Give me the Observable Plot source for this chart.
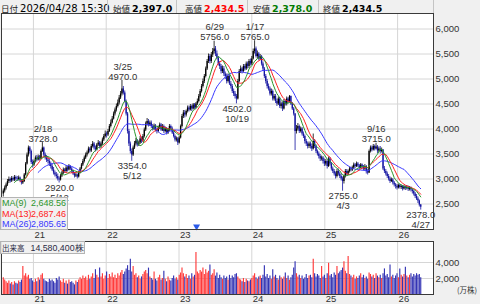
<!DOCTYPE html>
<html><head><meta charset="utf-8">
<script src="https://cdn.jsdelivr.net/npm/d3@7"></script>
<script src="https://cdn.jsdelivr.net/npm/@observablehq/plot@0.6"></script>
<style>
html,body{margin:0;padding:0;background:#fff;}
#chart{position:relative;width:480px;height:304px;background:#f0f0f0;overflow:hidden;font-family:"Liberation Sans",Arial,sans-serif;}
#hdr{position:absolute;left:0;top:0;width:480px;height:13px;background:#f0f0f0;white-space:nowrap;}
.fld{position:absolute;top:1px;line-height:12px;white-space:nowrap;}
.lab{font-family:"Noto Sans CJK JP",sans-serif;font-size:8.5px;color:#222;}
.val{font-family:"DejaVu Sans",sans-serif;font-size:9.5px;font-weight:bold;margin-left:2px;}
.sep{position:absolute;top:0;width:1px;height:13px;background:#c4c4c4;}
.pane{position:absolute;left:0;}
#leg{position:absolute;left:0;top:197px;width:66px;height:31px;background:rgba(240,240,240,0.92);border:1px solid #b4b4b4;font-size:9px;}
.lrow{position:absolute;left:1px;width:64px;height:11px;line-height:11px;}
.lrow .v{position:absolute;right:0;}
#vlab{position:absolute;left:0;top:241px;width:83px;height:11px;background:rgba(240,240,240,0.92);border:1px solid #b4b4b4;font-size:8.8px;line-height:11px;color:#2a2a44;white-space:nowrap;}
#unit{position:absolute;left:457px;top:284px;font-family:"Noto Sans CJK JP",sans-serif;font-size:7.5px;color:#333;}
</style>
</head><body>
<div id="chart">
  <div id="hdr"></div>
  <div class="pane" id="pricePane" style="top:13px"></div>
  <div class="pane" id="volPane" style="top:240px"></div>
  <div id="leg"></div>
  <div id="vlab"></div>
  <div id="unit">(万株)</div>
</div>
<script>
// ---- header quote ----
const hdrLabels = ["日付", "始値", "高値", "安値", "終値"];
const hdrValues = ["2026/04/28 15:30", "2,397.0", "2,434.5", "2,378.0", "2,434.5"];
const hdrColors = ["#000", "#000", "#ff0000", "#007a00", "#000"];
// ---- moving-average legend ----
const maNames = ["MA(9)", "MA(13)", "MA(26)"];
const maValues = ["2,648.56", "2,687.46", "2,805.65"];
const maPeriods = [9, 13, 26];
const maColors = ["#2c942c", "#ff2020", "#3838ff"];
// ---- volume caption ----
const volCaptionLabel = "出来高";
const volCaptionValue = "14,580,400株";

// ---- weekly candles (first week 2020-08-03, last week 2026-04-27) ----
const opens = [
2700,2760,2820,2880,2950,2990,2960,3010,2980,3030,
3000,2990,3020,2960,2920,2950,3080,3300,3480,3620,
3550,3330,3280,3350,3420,3380,3440,3400,3550,3620,
3480,3420,3380,3350,3300,3250,3180,3120,3080,3050,
3000,2980,3060,3120,3180,3150,3220,3180,3250,3200,
3150,3100,3060,3080,3040,3120,3200,3280,3350,3420,
3480,3520,3600,3560,3650,3700,3620,3580,3680,3720,
3650,3700,3780,3850,3900,3880,3950,4050,4120,4200,
4300,4380,4450,4520,4620,4700,4800,4720,4550,4300,
3950,3700,3550,3480,3620,3700,3760,3680,3720,3800,
3760,3850,3980,4100,4150,4080,4120,4050,4000,4060,
3980,3950,4020,4080,3980,4050,3950,4000,3920,3980,
4050,4000,3920,3850,3780,3800,3720,3820,4050,4250,
4320,4280,4350,4420,4380,4450,4400,4480,4420,4500,
4550,4650,4750,4850,4950,5050,5200,5350,5450,5350,
5480,5550,5600,5500,5420,5300,5250,5150,5200,5100,
5050,4950,5050,4900,4850,4750,4700,4650,4600,4950,
5150,5200,5150,5250,5200,5300,5250,5350,5300,5400,
5550,5600,5450,5500,5400,5450,5300,5200,5050,4950,
4850,4800,4700,4750,4600,4650,4550,4500,4600,4450,
4500,4400,4550,4500,4600,4550,4650,4500,4400,4300,
3950,4000,4050,3950,4000,3900,3850,3750,3700,3650,
3700,3650,3600,3750,3650,3550,3500,3450,3400,3420,
3350,3300,3350,3250,3400,3300,3200,3150,3100,3050,
3150,3100,3050,3000,2950,3050,3150,3100,3150,3200,
3180,3220,3280,3250,3300,3260,3220,3280,3240,3200,
3250,3150,3120,3550,3620,3580,3650,3600,3640,3560,
3600,3550,3580,3200,3150,3100,3050,3000,2950,2980,
2920,2880,2850,2820,2870,2830,2850,2800,2840,2810,
2830,2790,2820,2780,2750,2700,2650,2600,2560,2480];
const highs = [
2800,2860,2920,2990,3040,3020,3050,3040,3070,3060,
3050,3060,3040,2990,2990,3110,3330,3520,3660,3650,
3580,3380,3380,3460,3470,3480,3470,3580,3728,3640,
3520,3470,3430,3400,3340,3290,3230,3160,3130,3100,
3040,3090,3160,3220,3210,3260,3250,3290,3270,3230,
3180,3130,3120,3100,3150,3230,3310,3390,3460,3520,
3560,3640,3630,3690,3750,3730,3660,3710,3770,3750,
3740,3820,3890,3960,3940,3990,4090,4180,4250,4340,
4420,4500,4580,4670,4750,4970,4850,4760,4580,4330,
3990,3740,3600,3660,3750,3810,3790,3760,3850,3840,
3890,4020,4140,4210,4190,4160,4160,4090,4100,4090,
4020,4060,4120,4110,4090,4080,4040,4030,4010,4090,
4080,4040,3950,3880,3840,3830,3850,4080,4290,4370,
4370,4380,4460,4460,4490,4480,4510,4510,4530,4600,
4690,4790,4890,5000,5090,5240,5390,5500,5490,5530,
5610,5756,5650,5560,5450,5350,5290,5260,5250,5140,
5100,5100,5080,4950,4890,4800,4750,4690,4990,5190,
5260,5230,5290,5290,5340,5340,5390,5400,5450,5600,
5765,5640,5560,5530,5490,5470,5340,5230,5090,4990,
4900,4840,4800,4780,4690,4690,4600,4640,4630,4540,
4540,4590,4580,4640,4630,4670,4660,4530,4430,4310,
4070,4110,4080,4040,4030,3940,3880,3790,3740,3740,
3740,3700,3900,3790,3680,3580,3540,3490,3460,3450,
3400,3390,3380,3440,3430,3330,3240,3190,3140,3190,
3200,3140,3090,3040,3080,3190,3190,3180,3240,3240,
3260,3320,3310,3340,3330,3290,3310,3300,3270,3290,
3270,3190,3580,3660,3660,3690,3680,3715,3670,3640,
3650,3620,3590,3250,3190,3140,3090,3040,3020,3010,
2950,2910,2890,2900,2890,2880,2870,2870,2860,2870,
2860,2850,2840,2800,2770,2730,2690,2640,2580,2490];
const lows = [
2640,2720,2780,2850,2910,2920,2930,2950,2950,2960,
2950,2960,2940,2880,2890,2930,3060,3280,3440,3500,
3290,3220,3250,3320,3340,3360,3360,3380,3530,3440,
3380,3330,3300,3250,3200,3150,3080,3040,3000,2960,
2920,2960,3030,3090,3110,3120,3140,3160,3170,3110,
3070,3020,3030,3000,3020,3100,3180,3250,3320,3390,
3440,3500,3520,3530,3620,3580,3540,3560,3650,3600,
3610,3670,3750,3820,3820,3850,3930,4020,4100,4180,
4260,4340,4420,4480,4590,4660,4680,4520,4260,3900,
3650,3500,3354,3450,3590,3660,3640,3650,3690,3710,
3730,3820,3950,4060,4040,4050,4010,3960,3970,3940,
3900,3920,3990,3950,3950,3910,3920,3880,3890,3950,
3960,3890,3820,3740,3740,3670,3700,3800,4020,4210,
4220,4240,4320,4340,4360,4350,4380,4390,4400,4470,
4520,4620,4720,4820,4910,5020,5170,5310,5300,5310,
5430,5500,5450,5380,5260,5190,5100,5110,5050,4990,
4900,4920,4870,4800,4710,4650,4600,4502,4580,4920,
5110,5100,5120,5160,5170,5200,5210,5260,5270,5380,
5500,5420,5400,5360,5370,5260,5150,5010,4900,4800,
4760,4660,4660,4560,4560,4510,4450,4470,4410,4400,
4350,4380,4460,4460,4510,4520,4470,4370,4260,3570,
3900,3960,3910,3920,3860,3810,3700,3650,3600,3610,
3600,3550,3580,3610,3510,3460,3400,3350,3360,3300,
3250,3260,3200,3230,3260,3160,3110,3060,3000,3020,
3060,3010,2960,2755,2900,3020,3060,3070,3120,3140,
3150,3190,3210,3230,3230,3180,3200,3200,3160,3170,
3100,3080,3110,3520,3540,3560,3560,3580,3510,3530,
3500,3520,3170,3110,3060,3010,2960,2910,2930,2880,
2840,2800,2780,2800,2800,2790,2760,2780,2770,2780,
2750,2760,2740,2700,2660,2610,2570,2510,2440,2378];
const closes = [
2760,2820,2880,2950,2990,2960,3010,2980,3030,3000,
2990,3020,2960,2920,2950,3080,3300,3480,3620,3550,
3330,3280,3350,3420,3380,3440,3400,3550,3620,3480,
3420,3380,3350,3300,3250,3180,3120,3080,3050,3000,
2980,3060,3120,3180,3150,3220,3180,3250,3200,3150,
3100,3060,3080,3040,3120,3200,3280,3350,3420,3480,
3520,3600,3560,3650,3700,3620,3580,3680,3720,3650,
3700,3780,3850,3900,3880,3950,4050,4120,4200,4300,
4380,4450,4520,4620,4700,4800,4720,4550,4300,3950,
3700,3550,3480,3620,3700,3760,3680,3720,3800,3760,
3850,3980,4100,4150,4080,4120,4050,4000,4060,3980,
3950,4020,4080,3980,4050,3950,4000,3920,3980,4050,
4000,3920,3850,3780,3800,3720,3820,4050,4250,4320,
4280,4350,4420,4380,4450,4400,4480,4420,4500,4550,
4650,4750,4850,4950,5050,5200,5350,5450,5350,5480,
5550,5600,5500,5420,5300,5250,5150,5200,5100,5050,
4950,5050,4900,4850,4750,4700,4650,4600,4950,5150,
5200,5150,5250,5200,5300,5250,5350,5300,5400,5550,
5600,5450,5500,5400,5450,5300,5200,5050,4950,4850,
4800,4700,4750,4600,4650,4550,4500,4600,4450,4500,
4400,4550,4500,4600,4550,4650,4500,4400,4300,3950,
4000,4050,3950,4000,3900,3850,3750,3700,3650,3700,
3650,3600,3750,3650,3550,3500,3450,3400,3420,3350,
3300,3350,3250,3400,3300,3200,3150,3100,3050,3150,
3100,3050,3000,2950,3050,3150,3100,3150,3200,3180,
3220,3280,3250,3300,3260,3220,3280,3240,3200,3250,
3150,3120,3550,3620,3580,3650,3600,3640,3560,3600,
3550,3580,3200,3150,3100,3050,3000,2950,2980,2920,
2880,2850,2820,2870,2830,2850,2800,2840,2810,2830,
2790,2820,2780,2750,2700,2650,2600,2560,2480,2434.5];
// weekly volume, 万株
const volumes = [
2100,1800,1600,1400,1700,1300,1500,1200,1600,1400,
1300,1700,1500,1800,3500,2300,2600,2200,2400,1900,
2000,1700,1500,1900,1600,2100,1800,2400,2600,1900,
1700,1600,1500,1900,1700,1800,1600,1400,2000,1800,
2200,1700,1500,1900,1400,1700,1300,1800,1500,1600,
1400,1200,1700,1500,1800,2100,1900,2300,2000,2200,
1800,2400,1900,2200,2600,2000,3100,2400,2100,3300,
2200,2600,1900,2300,2800,2000,2500,2200,2700,2100,
2400,2000,2600,2300,2700,3000,2500,2800,3200,3600,
3000,4400,2800,3500,2400,2600,2100,2300,1900,2200,
2500,2800,3000,2600,3300,2200,2000,1800,2800,1900,
1700,2100,2400,1800,2000,2900,1900,1600,2200,1800,
1700,2000,2300,1900,2100,1800,2400,2700,3300,2600,
2200,2500,2000,2300,1900,2600,2200,2400,5250,2800,
2600,3000,2800,3300,2500,3100,2700,2900,3700,2400,
2600,3100,2300,2700,2000,2400,2100,1900,2300,2000,
2200,1800,2400,2000,2300,2100,2500,2600,2200,1900,
1800,1600,2000,1500,1900,1700,1600,1800,2000,2300,
2600,2100,1900,2200,2300,2000,2400,3600,2200,2500,
2000,2300,1900,3100,2200,2400,2000,1800,2300,2100,
1900,2200,2700,2000,2300,1800,2100,2400,3300,4100,
2600,2200,2400,2000,2300,1900,2100,2500,2000,2300,
2400,2100,4400,2600,2200,2500,2300,2000,3500,2200,
2400,2000,2600,3900,2300,2500,2100,2700,2400,3500,
2600,2800,3000,3300,4100,2900,2600,4750,2500,2300,
2100,2400,1900,2200,2000,2300,2600,2100,2400,2000,
2200,1900,2700,2500,2200,2400,2000,2600,2300,2100,
2400,2000,2600,3200,2300,2500,2100,3700,2200,2400,
2000,2300,2600,2100,3200,2400,2200,2500,3400,2300,
2100,2400,2600,2200,2500,2300,2600,2400,2500,2100];

// ---- high/low annotations ----
const annDates = ["2021-02-18","2021-05-12","2022-03-25","2022-05-12","2023-06-29","2023-10-19","2024-01-17","2025-04-03","2025-09-16","2026-04-27"];
const annLabels = ["2/18","5/12","3/25","5/12","6/29","10/19","1/17","4/3","9/16","4/27"];
const annValues = [3728.0, 2920.0, 4970.0, 3354.0, 5756.0, 4502.0, 5765.0, 2755.0, 3715.0, 2378.0];
const annKinds = ["high","low","high","low","high","low","high","low","high","low"];
// ---- event marker ----
const eventDates = ["2023-03-30"];
// ---- axis ticks ----
const priceTicks = [2500, 3000, 3500, 4000, 4500, 5000, 5500, 6000];
const volTicks = [2000, 4000];
const yearTicks = [2021, 2022, 2023, 2024, 2025, 2026];

const parse = d3.timeParse("%Y-%m-%d");
const dates = d3.timeMonday.range(new Date(2020, 7, 3), new Date(2026, 3, 28));
const candles = dates.map((date, i) => ({date, open: opens[i], high: highs[i], low: lows[i], close: closes[i], volume: volumes[i]}));
const years = yearTicks.map(y => new Date(y, 0, 1));
const anns = annDates.map((d, i) => ({date: parse(d), label: annLabels[i], value: annValues[i], kind: annKinds[i]}));
const events = eventDates.map(parse);

const xDomain = [new Date(2020, 6, 25), new Date(2026, 5, 30)];
const upCandle = "#000000", downCandle = "#1212a0";
const upVol = "#ff3a3a", downVol = "#3434b4";
const gridC = "#d6d6d6", frameC = "#3a3a3a", txt = "#333";
const baseStyle = {fontFamily: "'Liberation Sans', Arial, sans-serif", fontSize: "9.5px", background: "transparent", overflow: "visible", color: txt};

const price = Plot.plot({
  width: 480, height: 227,
  marginLeft: 1, marginRight: 47, marginTop: 0, marginBottom: 11,
  x: {type: "time", domain: xDomain, label: null},
  y: {domain: [1990, 6310], label: null},
  color: {type: "identity"},
  style: baseStyle,
  marks: [
    Plot.frame({fill: "white"}),
    Plot.ruleY(priceTicks, {y: d => d, stroke: gridC}),
    Plot.ruleX(years, {x: d => d, stroke: gridC}),
    Plot.ruleX(candles, {x: "date", y1: "low", y2: "high", stroke: d => d.close >= d.open ? upCandle : downCandle, strokeWidth: 0.8}),
    Plot.ruleX(candles, {x: "date", y1: "open", y2: "close", stroke: d => d.close >= d.open ? upCandle : downCandle, strokeWidth: 1.3}),
    ...[2, 1, 0].map(j => Plot.lineY(candles, Plot.windowY({k: maPeriods[j], anchor: "end", strict: true}, {x: "date", y: "close", stroke: maColors[j], strokeWidth: 1}))),
    Plot.text(anns.filter(d => d.kind === "high"), {x: "date", y: "value", text: d => d.label + "\n" + d.value.toFixed(1), lineAnchor: "bottom", dy: -1, lineHeight: 1.05, fill: txt, fontSize: 9.5}),
    Plot.text(anns.filter(d => d.kind === "low"), {x: "date", y: "value", text: d => d.value.toFixed(1) + "\n" + d.label, lineAnchor: "top", dy: 1, lineHeight: 1.05, fill: txt, fontSize: 9.5}),
    Plot.dot(events, {x: d => d, frameAnchor: "bottom", dy: -3, symbol: "triangle", rotate: 180, r: 2.6, fill: "#2a5ae8", stroke: "none"}),
    Plot.axisY(priceTicks, {anchor: "right", tickSize: 0, tickPadding: 2, fill: txt, label: null}),
    Plot.axisX(years, {anchor: "bottom", tickSize: 0, tickPadding: 2, tickFormat: d3.timeFormat("%y"), textAnchor: "start", dx: 1, fill: txt, label: null}),
    Plot.frame({stroke: frameC})
  ]
});
document.getElementById("pricePane").appendChild(price);

const vol = Plot.plot({
  width: 480, height: 64,
  marginLeft: 1, marginRight: 47, marginTop: 1, marginBottom: 10,
  x: {type: "time", domain: xDomain, label: null},
  y: {domain: [0, 6625], label: null},
  color: {type: "identity"},
  style: baseStyle,
  marks: [
    Plot.frame({fill: "white"}),
    Plot.ruleY(volTicks, {y: d => d, stroke: gridC}),
    Plot.ruleX(years, {x: d => d, stroke: gridC}),
    Plot.ruleX(candles, {x: "date", y1: 0, y2: "volume", stroke: d => d.close >= d.open ? upVol : downVol, strokeWidth: 1.15}),
    Plot.axisY(volTicks, {anchor: "right", tickSize: 0, tickPadding: 2, fill: txt, label: null}),
    Plot.axisX(years, {anchor: "bottom", tickSize: 0, tickPadding: 1, tickFormat: d3.timeFormat("%y"), textAnchor: "start", dx: 1, fill: txt, label: null}),
    Plot.frame({stroke: frameC})
  ]
});
document.getElementById("volPane").appendChild(vol);

// header
const hdrX = [1, 113, 185, 253, 323];
const sepX = [107, 176, 247, 318, 433];
const hdr = document.getElementById("hdr");
hdrLabels.forEach((l, i) => {
  const f = document.createElement("div");
  f.className = "fld";
  f.style.left = hdrX[i] + "px";
  const a = document.createElement("span"); a.className = "lab"; a.textContent = l;
  const b = document.createElement("span"); b.className = "val"; b.textContent = hdrValues[i]; b.style.color = hdrColors[i];
  if (i === 0) { b.style.fontWeight = "normal"; b.style.fontSize = "10px"; }
  f.appendChild(a); f.appendChild(b); hdr.appendChild(f);
});
sepX.forEach(x => { const s = document.createElement("div"); s.className = "sep"; s.style.left = x + "px"; hdr.appendChild(s); });

// MA legend
const leg = document.getElementById("leg");
maNames.forEach((n, i) => {
  const r = document.createElement("div");
  r.className = "lrow"; r.style.top = (i * 10.5) + "px"; r.style.color = maColors[i];
  r.innerHTML = `<span>${n}</span><span class="v">${maValues[i]}</span>`;
  leg.appendChild(r);
});
// volume caption
document.getElementById("vlab").innerHTML = `<span style="font-family:'Noto Sans CJK JP';font-size:7.5px;margin-left:1px">${volCaptionLabel}</span><span style="margin-left:6px">${volCaptionValue}</span>`;
</script>
</body></html>
